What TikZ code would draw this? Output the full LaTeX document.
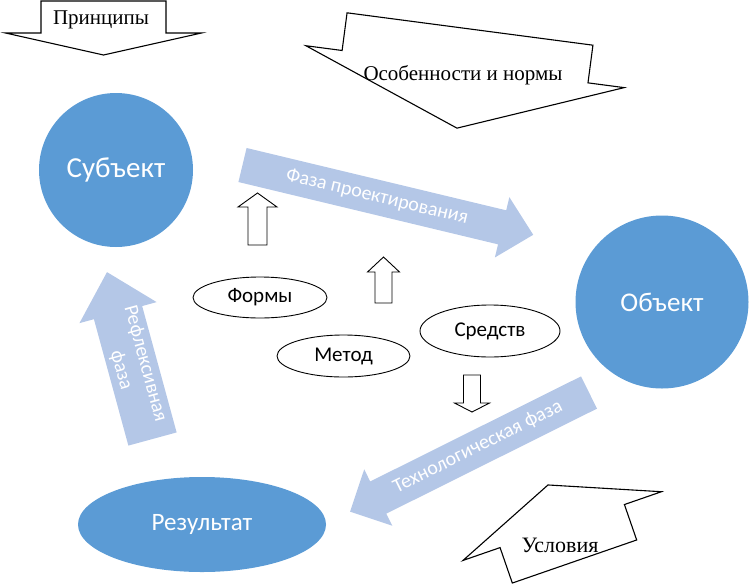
\documentclass[tikz,border=0pt]{standalone}
\usepackage{fontspec}
\setmainfont{Liberation Serif}
\newfontfamily\calibri{Carlito}
\usetikzlibrary{shapes.geometric}

\definecolor{entityblue}{RGB}{91,155,213}
\definecolor{phaseblue}{RGB}{180,199,231}

\tikzset{
  pics/blockarrow/.style args={#1/#2/#3/#4}{code={
    \path[pic actions] (0,-#2) -- ({#1-#4},-#2) -- ({#1-#4},-#3) -- (#1,0)
      -- ({#1-#4},#3) -- ({#1-#4},#2) -- (0,#2) -- cycle;
  }}
}

\begin{document}
\begin{tikzpicture}[
  x=1pt,y=-1pt,
  entity/.style={fill=entityblue,draw=none,text=white,inner sep=0pt,font=\calibri\fontsize{27}{30}\selectfont},
  phase/.style={fill=phaseblue,draw=none},
  phasetext/.style={text=white,inner sep=0pt,font=\calibri\fontsize{20}{25}\selectfont},
  outline/.style={draw=black,fill=white,line width=1.1pt,line join=miter},
  item/.style={ellipse,draw=black,fill=white,line width=0.9pt,inner sep=0pt,font=\calibri\fontsize{21}{24}\selectfont},
  notetext/.style={inner sep=0pt,font=\fontsize{21}{24}\selectfont}
]
  \useasboundingbox (0,0) rectangle (749,584);

  \pic[outline,rotate=-90] at (103.5,1) {blockarrow=54/62.5/98/22};
  \pic[outline,rotate=-97.5] at (470,29) {blockarrow=100/124/160.5/62};
  \pic[outline,rotate=109.1] at (574.5,561.5) {blockarrow=81/65.8/105/43.5};
  \node[notetext] (principles) at (101,20) {Принципы};
  \node[notetext] (norms) at (463,75) {Особенности и нормы};
  \node[notetext,font=\fontsize{22}{24}\selectfont] (conditions) at (560,545) {Условия};

  \pic[phase,rotate=-13.5] at (242.5,165) {blockarrow=299/17.5/31/32};
  \pic[phase,rotate=-153.5] at (589,392.5) {blockarrow=267/18/31.5/31.5};
  \pic[phase,rotate=105.25] at (152.5,439) {blockarrow=173/25/40/42};
  \node[phasetext,rotate=-13.5] (design) at (377,197) {Фаза проектирования};
  \node[phasetext,rotate=26.5] (tech) at (478,447) {Технологическая фаза};
  \node[phasetext,rotate=-74.75,align=center] (refl) at (133,367) {Рефлексивная\\фаза};

  \node[entity,circle,minimum size=154pt,font=\calibri\fontsize{29}{30}\selectfont] (subject) at (116,170) {Субъект};
  \node[entity,circle,minimum size=173pt] (object) at (662,302) {Объект};
  \node[entity,ellipse,minimum width=248pt,minimum height=95pt,font=\calibri\fontsize{25}{30}\selectfont] (result) at (202,524.5) {Результат};

  \node[item,minimum width=134pt,minimum height=41pt] (forms) at (260,297.5) {Формы};
  \node[item,minimum width=133pt,minimum height=42pt] (method) at (343.5,356) {Метод};
  \node[item,minimum width=140pt,minimum height=52pt] (means) at (490,331) {Средств};

  \pic[outline,line width=0.9pt,rotate=90] at (257.5,245) {blockarrow=52/9.5/19.5/14};
  \pic[outline,line width=0.9pt,rotate=90] at (383.5,303) {blockarrow=46/8.5/16/15};
  \pic[outline,line width=0.9pt,rotate=-90] at (472,375) {blockarrow=37/8.5/17.5/9};
\end{tikzpicture}
\end{document}
